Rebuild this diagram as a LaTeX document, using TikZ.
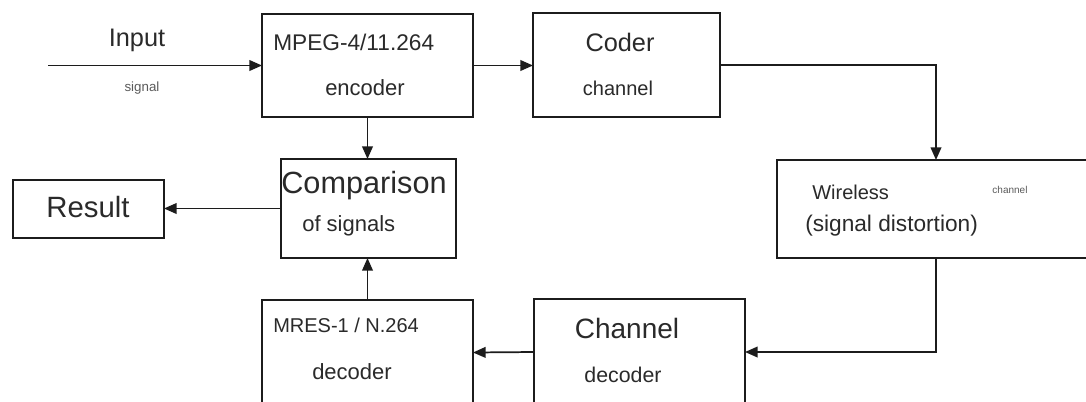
\documentclass[tikz,border=0pt]{standalone}
\usepackage{fontspec}
\setmainfont{Liberation Sans}
\usetikzlibrary{arrows.meta,fit}
\definecolor{ink}{HTML}{1C1C1C}
\definecolor{txt}{HTML}{2A2A2A}
\definecolor{faint}{HTML}{5A5A5A}
\tikzset{
  box/.style={draw=ink, line width=1.6pt, inner sep=0pt, outer sep=0pt, rectangle},
  conn/.style={draw=ink, line width=1.3pt, -{Triangle[length=9.5pt,width=8pt]}},
  lbl/.style={text=txt, inner sep=0pt},
}
\newcommand{\fs}[1]{\fontsize{#1}{#1}\selectfont}
\begin{document}
\begin{tikzpicture}[x=0.75pt,y=-0.75pt]
\clip (0,0) rectangle (1086,401);
\fill[white] (0,0) rectangle (1086,401);

% boxes
\node[box, fit={(262,14) (473,117)}] (enc) {};
\node[box, fit={(533,13) (720,117)}] (coder) {};
\node[box, fit={(777,160) (1095,258)}] (wire) {};
\node[box, fit={(534,299) (745,405)}] (chdec) {};
\node[box, fit={(262,300) (473,405)}] (mres) {};
\node[box, fit={(281,159) (456,258)}] (comp) {};
\node[box, fit={(13,180) (164,238)}] (res) {};

% texts
\node[lbl, font=\fs{19}] (tin) at (137,40) {Input};
\node[lbl, font=\fs{10}, text=faint] (tsig) at (142,88) {signal};
\node[lbl, font=\fs{17}, anchor=west] (tmpeg) at (273,42) {MPEG-4/11.264};
\node[lbl, font=\fs{16.5}] (tenc) at (365,88) {encoder};
\node[lbl, font=\fs{19}] (tcoder) at (620,42) {Coder};
\node[lbl, font=\fs{15}] (tch1) at (618,88) {channel};
\node[lbl, font=\fs{15}, anchor=west] (twire) at (812,192) {Wireless};
\node[lbl, font=\fs{7.5}, text=faint] (tch2) at (1010,190) {channel};
\node[lbl, font=\fs{17}, anchor=west] (tdist) at (805,226) {(signal distortion)};
\node[lbl, font=\fs{23}] (tcomp) at (364,186) {Comparison};
\node[lbl, font=\fs{16.5}, anchor=west] (tofs) at (302,226) {of signals};
\node[lbl, font=\fs{22}] (tres) at (88,207) {Result};
\node[lbl, font=\fs{15}, anchor=west] (tmres) at (273,325) {MRES-1 / N.264};
\node[lbl, font=\fs{16.5}] (tdec1) at (352,372) {decoder};
\node[lbl, font=\fs{21}] (tchan) at (627,328) {Channel};
\node[lbl, font=\fs{16}] (tdec2) at (623,375) {decoder};

% connectors
\coordinate (in) at (48,65.5);
\draw[conn] (in) -- (in -| enc.west);
\draw[conn] (enc.east) -- (enc.east -| coder.west);
\draw[conn] (coder.east) -| (wire.north);
\draw[conn] (wire.south) |- (chdec.east);
\draw[conn] (chdec.west) -- (mres.east);
\draw[conn] (mres.north) -- (mres.north |- comp.south);
\draw[conn] (enc.south) -- (enc.south |- comp.north);
\draw[conn] (comp.west) -- (comp.west -| res.east);
\end{tikzpicture}
\end{document}
